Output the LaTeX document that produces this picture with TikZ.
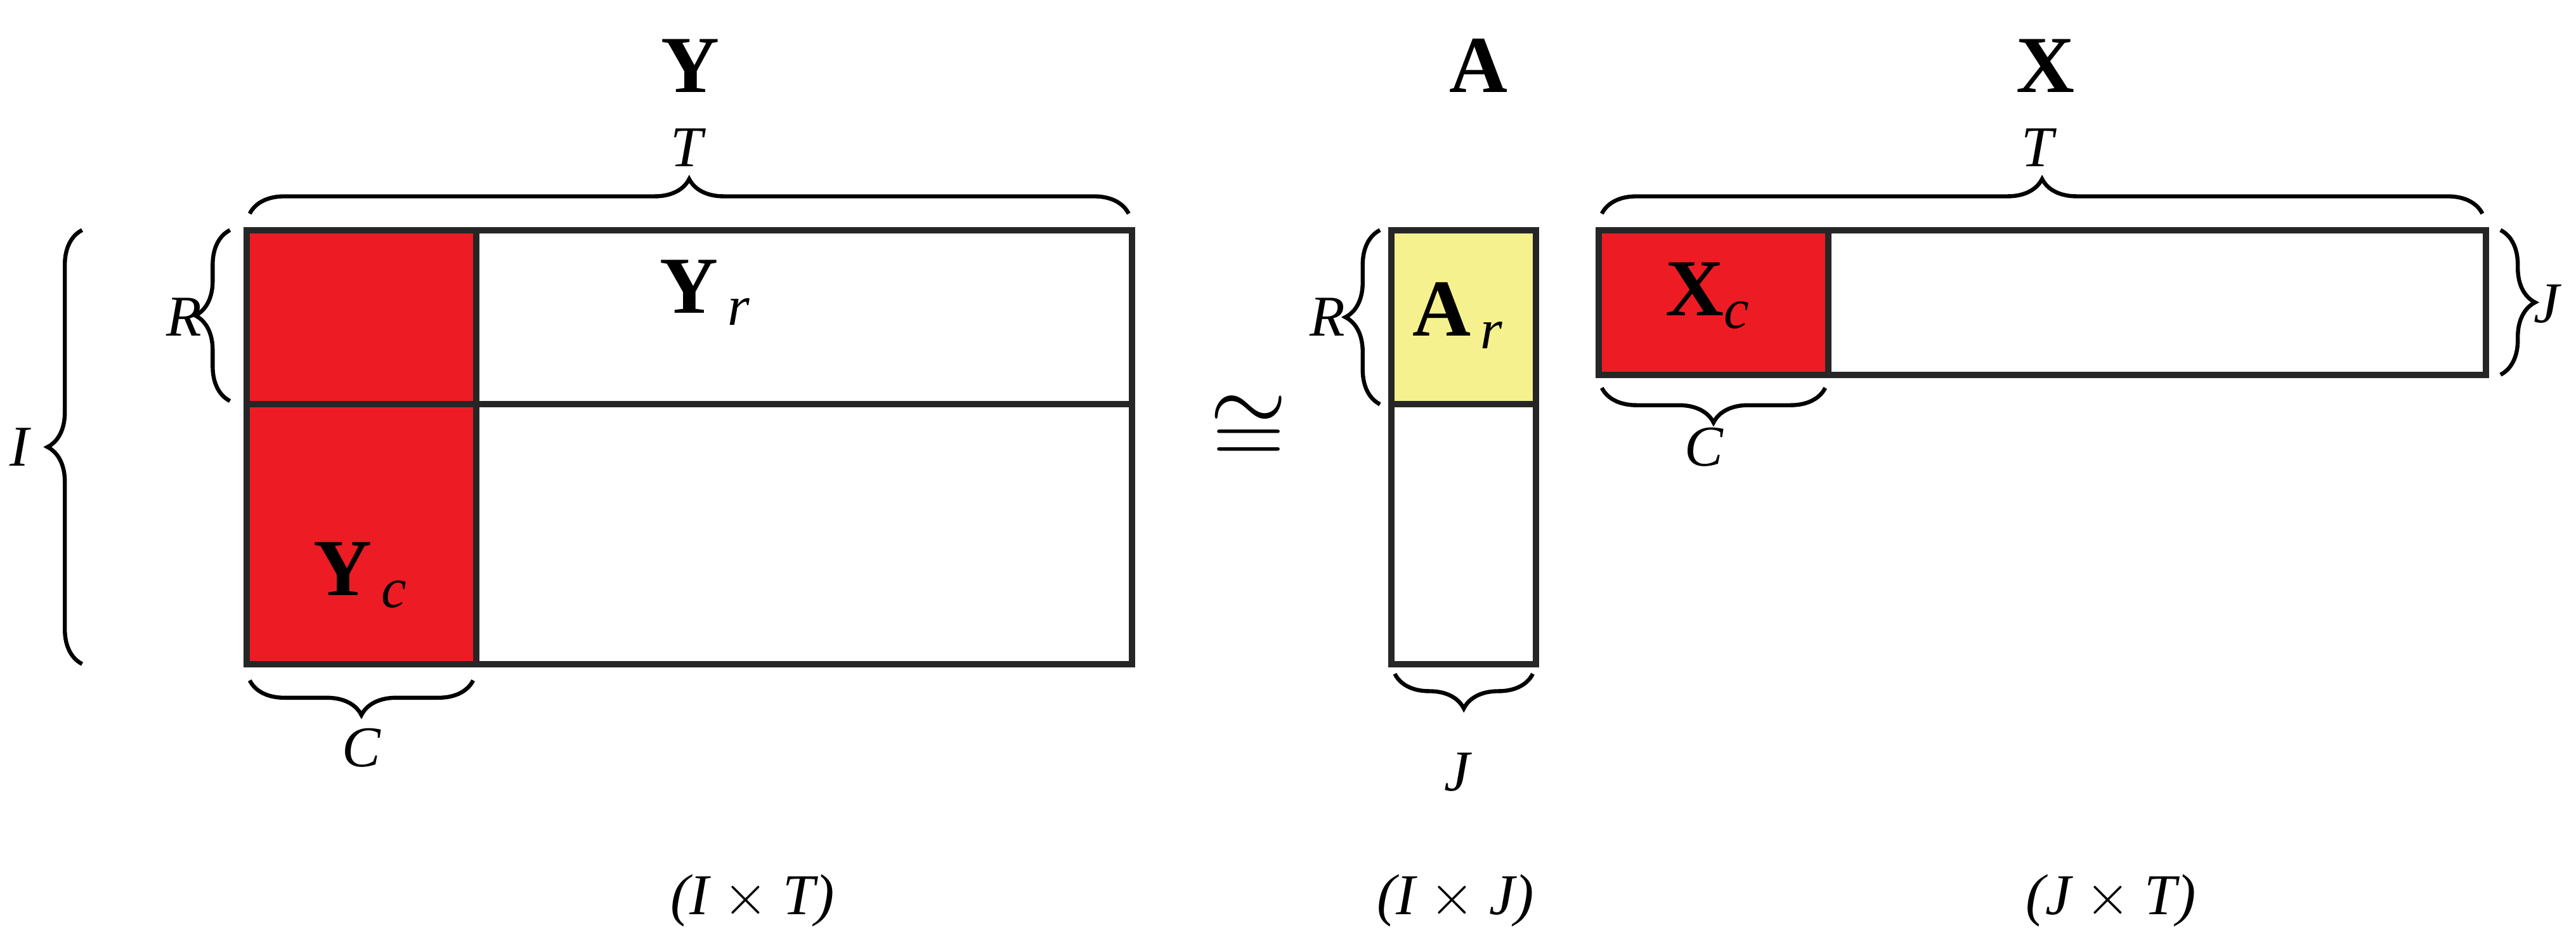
\documentclass[tikz,border=0pt]{standalone}
\usepackage{fontspec}
\setmainfont{Liberation Serif}
\usetikzlibrary{decorations.pathreplacing}
\definecolor{blockred}{HTML}{ED1C24}
\definecolor{blockyellow}{HTML}{F5F18E}
\tikzset{
  cell/.style={draw=black!85,line width=1.1pt},
  brc/.style={decorate,decoration={brace,amplitude=6pt},line width=0.7pt},
  big/.style={font=\fontsize{14}{16}\selectfont\bfseries},
  lab/.style={font=\fontsize{10}{12}\selectfont\itshape}
}
\begin{document}
\begin{tikzpicture}
\useasboundingbox (0,0) rectangle (15.68,5.74);
% Y
\fill[blockred] (1.50,1.70) rectangle (2.90,4.34);
\draw[cell] (1.50,1.70) rectangle (6.89,4.34);
\draw[cell] (1.50,3.28) -- (6.89,3.28);
\draw[cell] (2.90,1.70) -- (2.90,4.34);
% A
\fill[blockyellow] (8.47,3.28) rectangle (9.35,4.34);
\draw[cell] (8.47,1.70) rectangle (9.35,4.34);
\draw[cell] (8.47,3.28) -- (9.35,3.28);
% X
\fill[blockred] (9.73,3.46) rectangle (11.13,4.34);
\draw[cell] (9.73,3.46) rectangle (15.13,4.34);
\draw[cell] (11.13,3.46) -- (11.13,4.34);
% titles
\node[big] (ty) at (4.20,5.34) {Y};
\node[big] (ta) at (9.00,5.34) {A};
\node[big] (tx) at (12.45,5.34) {X};
\node[big] (yr) at (4.30,3.96) {Y$_{\,\mathit{r}}$};
\node[big] (yc) at (2.20,2.24) {Y$_{\,\mathit{c}}$};
\node[big] (ar) at (8.88,3.82) {A$_{\,\mathit{r}}$};
\node[big] (xc) at (10.40,3.94) {X$_{\mathit{c}}$};
\node[font=\fontsize{18}{20}\selectfont,inner sep=0pt] (eq) at (7.60,3.12) {$\cong$};
% braces
\draw[brc] (1.52,4.44) -- (6.87,4.44);
\node[lab] (t1) at (4.18,4.84) {T};
\draw[brc] (0.50,1.70) -- (0.50,4.34);
\node[lab] (i1) at (0.12,3.02) {I};
\draw[brc] (1.40,3.30) -- (1.40,4.34);
\node[lab] (r1) at (1.12,3.81) {R};
\draw[brc] (2.88,1.60) -- (1.52,1.60);
\node[lab] (c1) at (2.20,1.19) {C};
\draw[brc] (8.40,3.28) -- (8.40,4.34);
\node[lab] (r2) at (8.08,3.81) {R};
\draw[brc] (9.33,1.64) -- (8.49,1.64);
\node[lab] (j1) at (8.87,1.04) {J};
\draw[brc] (9.75,4.44) -- (15.11,4.44);
\node[lab] (t2) at (12.40,4.84) {T};
\draw[brc] (11.11,3.38) -- (9.75,3.38);
\node[lab] (c2) at (10.37,3.02) {C};
\draw[brc] (15.22,4.34) -- (15.22,3.46);
\node[lab] (j2) at (15.50,3.89) {J};
% sizes
\node[lab] (s1) at (4.58,0.26) {(I $\times$ T)};
\node[lab] (s2) at (8.86,0.26) {(I $\times$ J)};
\node[lab] (s3) at (12.85,0.26) {(J $\times$ T)};
\end{tikzpicture}
\end{document}
